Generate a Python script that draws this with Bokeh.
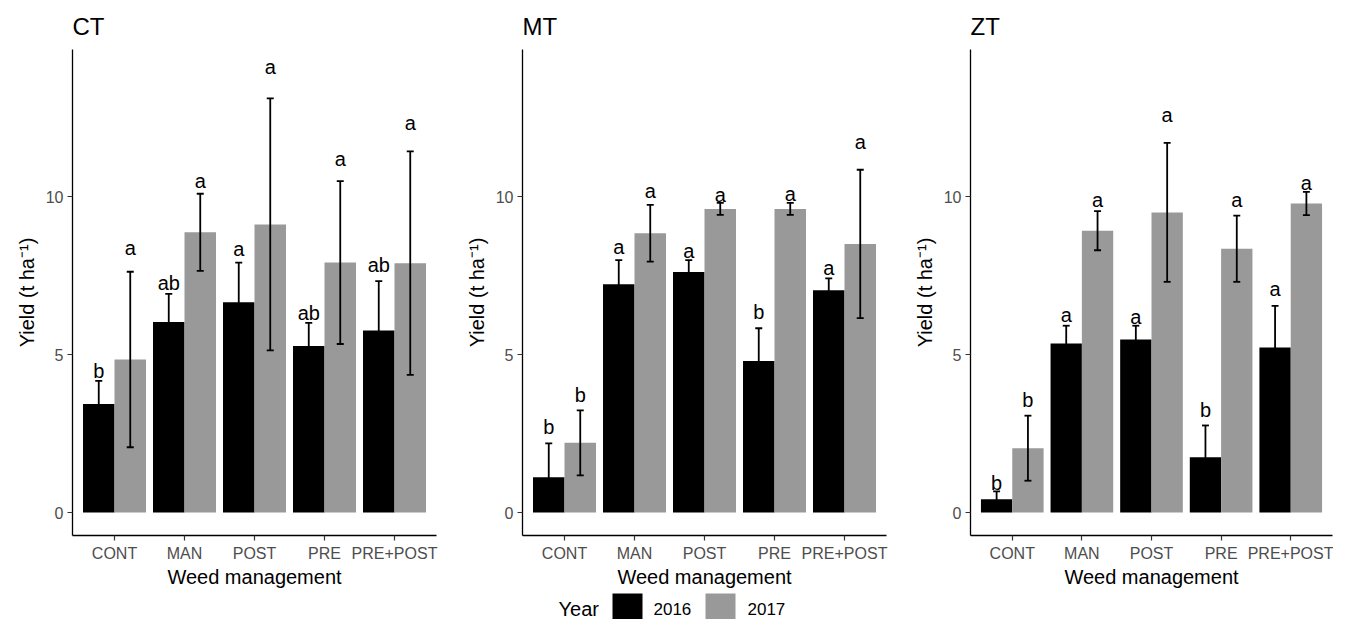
import numpy as np
from bokeh.plotting import figure
from bokeh.models import Range1d, FixedTicker
from bokeh.layouts import row, column
from bokeh.embed import file_html
from bokeh.resources import INLINE
from bokeh.core.properties import value

# ---------------- data ----------------
categories = ["CONT", "MAN", "POST", "PRE", "PRE+POST"]
years = ["2016", "2017"]
year_colors = ["#000000", "#999999"]

ct_2016 = [3.44, 6.04, 6.66, 5.28, 5.77]
ct_2016_err = [0.73, 0.89, 1.26, 0.73, 1.56]
ct_2017 = [4.85, 8.88, 9.13, 7.92, 7.90]
ct_2017_err = [2.78, 1.22, 3.99, 2.58, 3.54]
ct_2016_letters = ["b", "ab", "a", "ab", "ab"]
ct_2017_letters = ["a", "a", "a", "a", "a"]
ct_2016_letter_y = [4.30, 7.09, 8.17, 6.14, 7.64]
ct_2017_letter_y = [8.20, 10.32, 13.91, 11.00, 12.14]

mt_2016 = [1.12, 7.23, 7.62, 4.80, 7.04]
mt_2016_err = [1.07, 0.77, 0.38, 1.04, 0.38]
mt_2017 = [2.21, 8.85, 9.62, 9.62, 8.51]
mt_2017_err = [1.03, 0.90, 0.19, 0.19, 2.35]
mt_2016_letters = ["b", "a", "a", "b", "a"]
mt_2017_letters = ["b", "a", "a", "a", "a"]
mt_2016_letter_y = [2.51, 8.22, 8.11, 6.17, 7.55]
mt_2017_letter_y = [3.53, 9.99, 9.86, 9.90, 11.56]

zt_2016 = [0.42, 5.36, 5.48, 1.75, 5.23]
zt_2016_err = [0.25, 0.56, 0.44, 1.01, 1.32]
zt_2017 = [2.04, 8.93, 9.51, 8.36, 9.79]
zt_2017_err = [1.03, 0.62, 2.20, 1.05, 0.37]
zt_2016_letters = ["b", "a", "a", "b", "a"]
zt_2017_letters = ["b", "a", "a", "a", "a"]
zt_2016_letter_y = [0.74, 6.07, 6.00, 3.05, 6.88]
zt_2017_letter_y = [3.39, 9.71, 12.39, 9.71, 10.24]

y_ticks = [0, 5, 10]
panel_titles = ["CT", "MT", "ZT"]

FONT = "Liberation Sans"
MAIN_H = 590


def make_panel(title, series, width, left, right):
    p = figure(width=width, height=MAIN_H,
               x_range=Range1d(0.4, 5.6), y_range=Range1d(-0.726, 14.67),
               output_backend="svg", toolbar_location=None,
               min_border_left=left, min_border_right=right,
               min_border_top=48, min_border_bottom=MAIN_H - 536)
    x = np.arange(1, len(categories) + 1, dtype=float)
    offsets = [-0.225, 0.225]
    for (means, errs, letters, ly), off, col in zip(series, offsets, year_colors):
        xs = x + off
        m = np.array(means)
        e = np.array(errs)
        p.vbar(x=xs, top=m, bottom=0, width=0.45, fill_color=col, line_color=None)
        p.segment(x0=xs, y0=m - e, x1=xs, y1=m + e, line_color="black", line_width=1.8)
        p.segment(x0=xs - 0.05, y0=m + e, x1=xs + 0.05, y1=m + e, line_color="black", line_width=1.8)
        p.segment(x0=xs - 0.05, y0=m - e, x1=xs + 0.05, y1=m - e, line_color="black", line_width=1.8)
        p.text(x=xs, y=ly, text=letters, text_align="center", text_baseline="alphabetic",
               y_offset=-6,
               text_font=value(FONT), text_font_size="20px", text_color="black")

    p.title.text = title
    p.title.text_font = FONT
    p.title.text_font_size = "24px"
    p.title.text_font_style = "normal"
    p.title.text_color = "black"
    p.title.align = "left"
    p.title.standoff = 20

    p.grid.visible = False
    p.outline_line_color = None
    p.background_fill_color = "white"
    p.border_fill_color = "white"

    p.xaxis.ticker = FixedTicker(ticks=list(x))
    p.xaxis.major_label_overrides = {int(i): c for i, c in zip(x, categories)}
    p.yaxis.ticker = FixedTicker(ticks=y_ticks)
    p.xaxis.axis_label = "Weed management"
    p.yaxis.axis_label = "Yield (t ha\u207b\u00b9)"
    for ax in (p.xaxis[0], p.yaxis[0]):
        ax.axis_line_color = "black"
        ax.axis_line_width = 1.3
        ax.major_tick_line_color = "#333333"
        ax.major_tick_line_width = 1.2
        ax.major_tick_out = 5
        ax.major_tick_in = 0
        ax.minor_tick_line_color = None
        ax.major_label_text_font = FONT
        ax.major_label_text_font_size = "16px"
        ax.major_label_text_color = "#4D4D4D"
        ax.major_label_standoff = 4
        ax.axis_label_text_font = FONT
        ax.axis_label_text_font_size = "20px"
        ax.axis_label_text_font_style = "normal"
        ax.axis_label_text_color = "black"
    p.xaxis.axis_label_standoff = 1
    p.yaxis.axis_label_standoff = 5
    return p


p1 = make_panel(panel_titles[0],
                [(ct_2016, ct_2016_err, ct_2016_letters, ct_2016_letter_y),
                 (ct_2017, ct_2017_err, ct_2017_letters, ct_2017_letter_y)],
                width=449, left=72, right=13)
p2 = make_panel(panel_titles[1],
                [(mt_2016, mt_2016_err, mt_2016_letters, mt_2016_letter_y),
                 (mt_2017, mt_2017_err, mt_2017_letters, mt_2017_letter_y)],
                width=449, left=73, right=12)
p3 = make_panel(panel_titles[2],
                [(zt_2016, zt_2016_err, zt_2016_letters, zt_2016_letter_y),
                 (zt_2017, zt_2017_err, zt_2017_letters, zt_2017_letter_y)],
                width=435, left=72, right=1)

# ---------------- legend ----------------
LEG_H = 619 - MAIN_H
leg = figure(width=1333, height=LEG_H, x_range=Range1d(0, 1333), y_range=Range1d(619, MAIN_H),
             output_backend="svg", toolbar_location=None, min_border=0,
             x_axis_location=None, y_axis_location=None)
leg.grid.visible = False
leg.outline_line_color = None
leg.text(x=[558], y=[608], text=["Year"], text_align="left", text_baseline="alphabetic",
         text_font=value(FONT), text_font_size="20px", text_color="black")
box_left = [612, 705]
leg.quad(left=box_left, right=[b + 30 for b in box_left], top=[593] * 2, bottom=[623] * 2,
         fill_color=year_colors, line_color=None)
leg.text(x=[653, 747], y=[608, 608], text=years, text_align="left", text_baseline="alphabetic",
         text_font=value(FONT), text_font_size="17px", text_color="black")

layout = column(row(p1, p2, p3), leg)
open("out.html", "w").write(file_html(layout, INLINE))
